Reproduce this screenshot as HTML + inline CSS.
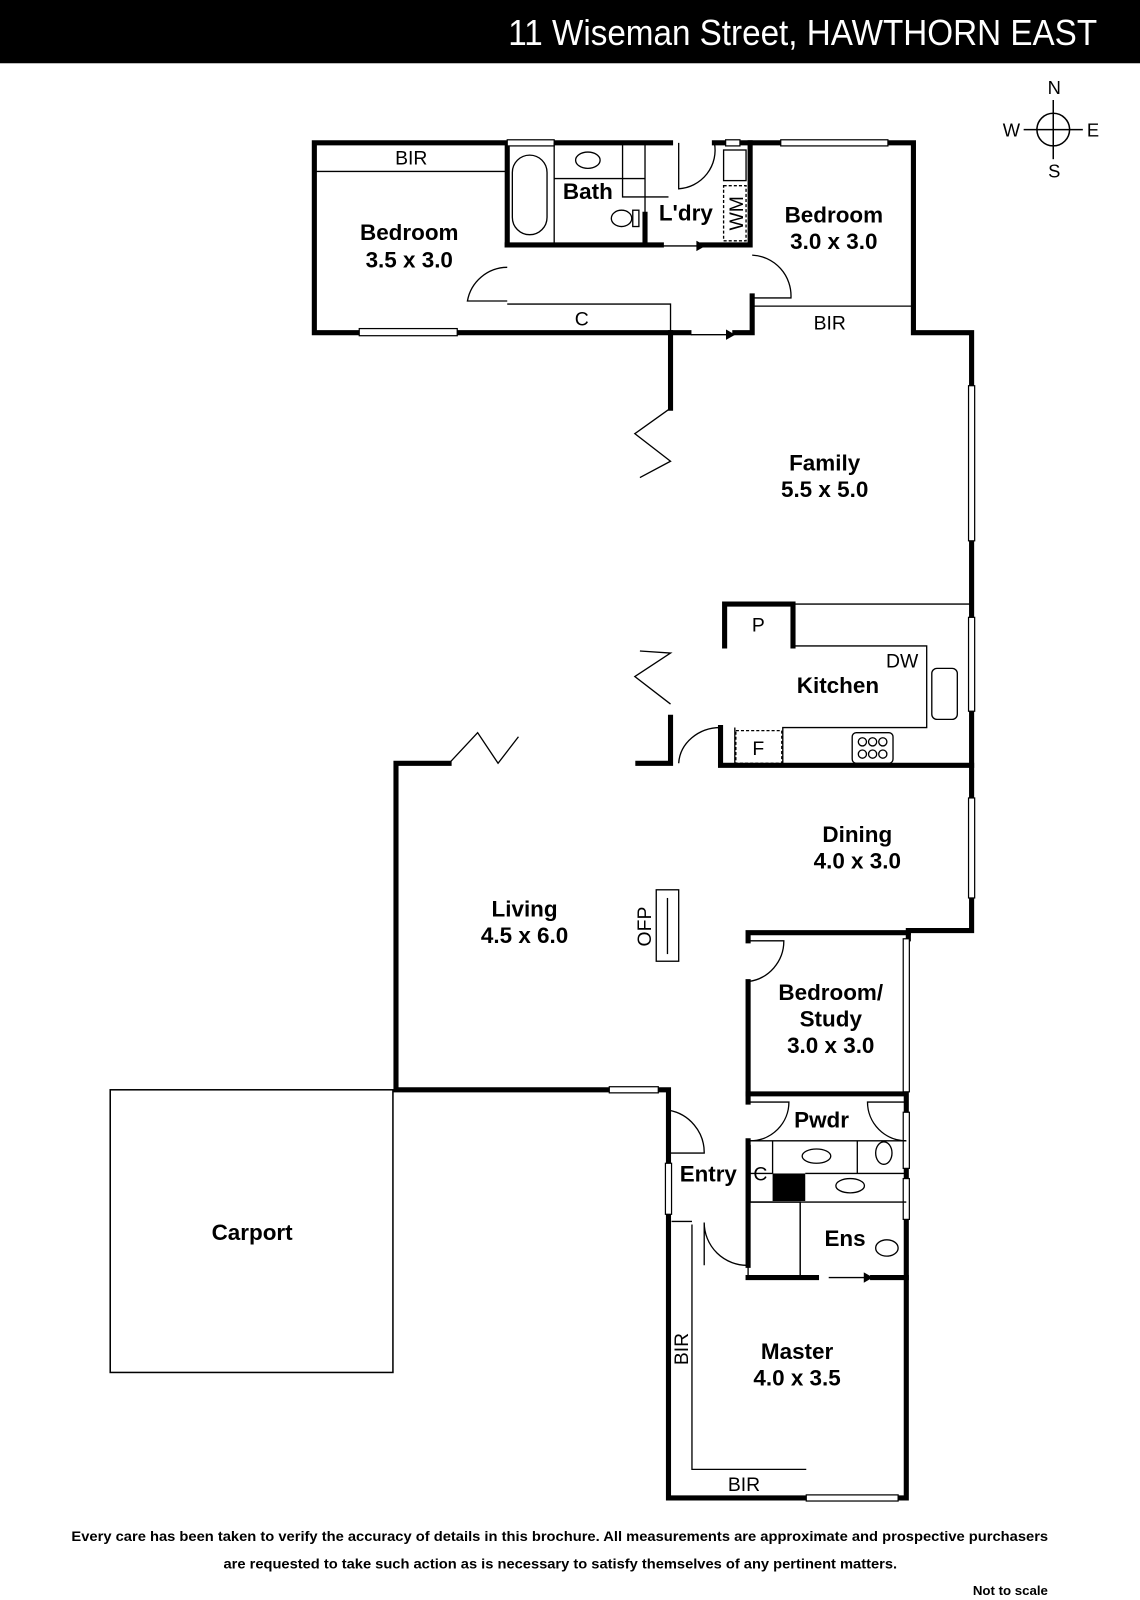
<!DOCTYPE html>
<html><head><meta charset="utf-8"><style>
html,body{margin:0;padding:0;background:#fff;}
svg{display:block;}
text{font-family:"Liberation Sans Narrow","Liberation Sans",sans-serif;}
</style></head><body>
<svg width="1140" height="1600" viewBox="0 0 1117 1568" preserveAspectRatio="none" xmlns="http://www.w3.org/2000/svg">
<rect x="0" y="0" width="1117" height="62" fill="#000"/>
<text x="498" y="44" fill="#fff" font-size="35" textLength="577" lengthAdjust="spacingAndGlyphs">11 Wiseman Street, HAWTHORN EAST</text>

<!-- compass -->
<g stroke="#000" stroke-width="1.5" fill="none">
<circle cx="1032" cy="127" r="16"/>
<line x1="1032" y1="98" x2="1032" y2="156"/><line x1="1003" y1="127" x2="1061" y2="127"/>
</g>
<g font-size="18" text-anchor="middle">
<text x="1033" y="92">N</text><text x="991" y="134">W</text><text x="1071" y="134">E</text><text x="1033" y="174">S</text>
</g>

<!-- thick walls -->
<g stroke="#000" stroke-width="5" fill="none" stroke-linecap="square">
<path d="M308 140 H497 M497 140 V240 M308 140 V326 H352 M448 326 H657 V400"/>
<path d="M543 140 H657 M700 140 H765 M870 140 H895 V326 H952 V378 M952 530 V605 M952 697 V782 M952 880 V912 H890 V920"/>
<path d="M497 240 H632 V210 M632 240 H648 M688 240 H735 M735 140 V240 M657 326 H675"/>
<path d="M737 290 V326 H720"/>
<path d="M710 633 V592 H777 V633"/>
<path d="M657 703 V748 H625 M706 713 V750 H952"/>
<path d="M388 748 H440 M388 748 V1068 H597 M645 1068 H655 V1088 M655 1140 V1068 M655 1190 V1468 H790 M880 1468 H888 V1195 M888 1145 V1155 M888 1070 V1090 M733 914 H890 M733 914 V922 M733 962 V1072 H888"/>
<path d="M733 1072 V1080 M733 1118 V1240 M733 1252 H800 M855 1252 H888"/>
</g>
<rect x="757" y="1150" width="32" height="27" fill="#000"/>

<!-- windows -->
<g stroke="#000" stroke-width="1.2" fill="#fff">
<rect x="352" y="322" width="96" height="7"/><rect x="497" y="137" width="46" height="6"/>
<rect x="765" y="137" width="105" height="6"/><rect x="711" y="137" width="14" height="6"/>
<rect x="949" y="378" width="6" height="152"/><rect x="949" y="605" width="6" height="92"/>
<rect x="949" y="782" width="6" height="98"/><rect x="885" y="920" width="6" height="150"/>
<rect x="885" y="1090" width="6" height="55"/><rect x="885" y="1155" width="6" height="40"/>
<rect x="790" y="1465" width="90" height="6"/><rect x="597" y="1065" width="48" height="6"/>
<rect x="652" y="1140" width="6" height="50"/>
</g>

<!-- thin lines -->
<g stroke="#000" stroke-width="1.3" fill="none">
<path d="M310 168 H495 M497 298 H657 V326 M737 300 H893"/>
<path d="M543 140 V240 M543 175 H632 M632 140 V210 M610 140 V193 H655"/>
<rect x="502" y="152" width="34" height="78" rx="17"/>
<ellipse cx="576" cy="157" rx="12" ry="8"/>
<ellipse cx="609" cy="214" rx="10" ry="8"/><rect x="620" y="206" width="6" height="16"/>
<rect x="709" y="147" width="22" height="30"/>
<rect x="709" y="182" width="22" height="54" stroke-dasharray="3,2"/>
<path d="M777 592 H950 M777 633 H908 V713 H767 V750 M720 713 V750"/>
<rect x="721" y="716" width="45" height="32" stroke-dasharray="3,2"/>
<rect x="913" y="655" width="25" height="50" rx="5"/>
<rect x="835" y="718" width="40" height="30" rx="4"/>
<circle cx="845" cy="727" r="4"/><circle cx="855" cy="727" r="4"/><circle cx="865" cy="727" r="4"/>
<circle cx="845" cy="739" r="4"/><circle cx="855" cy="739" r="4"/><circle cx="865" cy="739" r="4"/>
<rect x="643" y="872" width="22" height="70"/><line x1="654" y1="880" x2="654" y2="935"/>
<path d="M733 1118 H888 M733 1150 H757 M757 1118 V1150 M840 1118 V1150 M789 1150 H888 M733 1178 H888 M784 1178 V1252 M735 1122 V1178"/>
<ellipse cx="800" cy="1133" rx="14" ry="7"/><ellipse cx="833" cy="1162" rx="14" ry="7"/>
<ellipse cx="866" cy="1130" rx="8" ry="11"/><ellipse cx="869" cy="1223" rx="11" ry="8"/>
<rect x="733" y="1178" width="51" height="74"/>
<path d="M678 1200 V1440 H790 M658 1197 H678"/>
<rect x="108" y="1068" width="277" height="277" stroke-width="1.5"/>
<!-- doors -->
<path d="M497 262 A40 40 0 0 0 458 295 H497"/>
<path d="M737 250 A40 40 0 0 1 775 292 H737"/>
<path d="M665 140 V185 A38 38 0 0 0 700 140"/>
<path d="M706 750 V713 A41 37 0 0 0 665 748"/>
<path d="M735 922 H768 A40 40 0 0 1 733 962"/>
<path d="M733 1080 H773 A38 38 0 0 1 735 1118"/>
<path d="M888 1080 H850 A38 38 0 0 0 888 1118"/>
<path d="M655 1088 A42 42 0 0 1 690 1130 H655"/>
<path d="M733 1195 V1240 A42 42 0 0 1 690 1198 M690 1198 V1240"/>
<path d="M657 400 L622 425 L657 452 L627 468 M657 690 L622 663 L657 640 L627 638"/>
<path d="M440 748 L468 718 L488 748 L508 722"/>
</g>
<g stroke="#000" stroke-width="1.3" fill="#000">
<path d="M648 241 H683"/><polygon points="683,237 690,241 683,245"/>
<path d="M677 328 H712"/><polygon points="712,324 719,328 712,332"/>
<path d="M812 1252 H847"/><polygon points="847,1248 854,1252 847,1256"/>
</g>

<!-- labels -->
<g font-size="22" font-weight="bold" text-anchor="middle">
<text x="401" y="235">Bedroom</text><text x="401" y="262">3.5 x 3.0</text>
<text x="576" y="195">Bath</text><text x="672" y="216">L'dry</text>
<text x="817" y="218">Bedroom</text><text x="817" y="244">3.0 x 3.0</text>
<text x="808" y="461">Family</text><text x="808" y="487">5.5 x 5.0</text>
<text x="821" y="679">Kitchen</text>
<text x="840" y="825">Dining</text><text x="840" y="851">4.0 x 3.0</text>
<text x="514" y="898">Living</text><text x="514" y="924">4.5 x 6.0</text>
<text x="814" y="980">Bedroom/</text><text x="814" y="1006">Study</text><text x="814" y="1032">3.0 x 3.0</text>
<text x="805" y="1105">Pwdr</text><text x="694" y="1158" textLength="56" lengthAdjust="spacingAndGlyphs">Entry</text><text x="828" y="1221">Ens</text>
<text x="781" y="1332">Master</text><text x="781" y="1358">4.0 x 3.5</text>
<text x="247" y="1215">Carport</text>
</g>
<g font-size="19" text-anchor="middle">
<text x="403" y="161">BIR</text><text x="570" y="319">C</text><text x="813" y="323">BIR</text>
<text x="743" y="619">P</text><text x="884" y="654">DW</text><text x="743" y="740">F</text>
<text x="745" y="1157">C</text><text x="729" y="1461">BIR</text>
<text transform="translate(728,209) rotate(-90)">WM</text>
<text transform="translate(638,908) rotate(-90)">OFP</text>
<text transform="translate(674,1322) rotate(-90)">BIR</text>
</g>
<g font-size="14" font-weight="bold">
<text x="70" y="1510" textLength="957" lengthAdjust="spacingAndGlyphs">Every care has been taken to verify the accuracy of details in this brochure.  All measurements are approximate and prospective purchasers</text>
<text x="219" y="1537" textLength="660" lengthAdjust="spacingAndGlyphs">are requested to take such action as is necessary to satisfy themselves of any pertinent matters.</text>
</g>
<text x="990" y="1563" font-size="13" font-weight="bold" text-anchor="middle">Not to scale</text>
</svg>
</body></html>
